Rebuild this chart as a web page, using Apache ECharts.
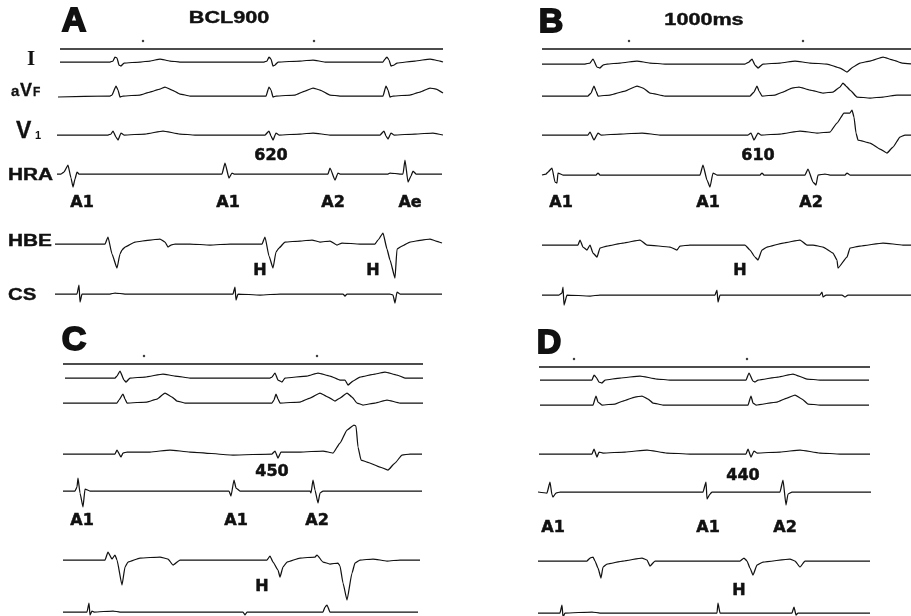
<!DOCTYPE html>
<html><head><meta charset="utf-8">
<script src="https://cdn.jsdelivr.net/npm/echarts@6/dist/echarts.min.js"></script>
<style>html,body{margin:0;padding:0;background:#fff}#c{width:911px;height:616px}</style>
</head><body><div id="c"></div>
<script>
// ---------- DATA: [time, amplitude] (time units ~ recording position, amplitude up = +) ----------
// Panel A  (BCL900, A1-A2 620)
const A_time = [[10,0],[393,0]];
const A_timeMarks = [93, 264];
const A_I = [[10,0],[60,0],[63,1],[65,5],[67,4],[69,-3],[71,-4],[74,-1],[90,0],[100,1],[110,3],[120,1],[130,0],[214,0],[217,1],[219,5],[221,3],[223,-4],[225,-3],[228,0],[250,1],[263,2],[275,0],[333,0],[335,3],[337,5],[339,2],[341,-4],[344,-3],[347,-1],[365,1],[380,3],[390,1],[393,0]];
const A_aVF = [[8,-1],[60,0],[62,1],[66,10],[68,6],[70,-1],[73,0],[90,1],[100,4],[110,7],[115,9],[122,6],[130,2],[140,0],[216,0],[219,9],[221,6],[223,-1],[226,0],[245,1],[255,5],[263,8],[270,6],[280,1],[290,0],[333,0],[336,10],[338,6],[340,-1],[343,0],[360,1],[370,4],[380,8],[386,7],[393,3]];
const A_V1 = [[7,0],[58,0],[61,1],[63,4],[66,-2],[68,-5],[71,2],[74,0],[95,1],[113,4],[130,1],[145,0],[215,0],[219,4],[221,-1],[223,-5],[226,2],[229,0],[250,1],[263,2],[280,0],[330,0],[334,4],[336,-1],[338,-4],[341,2],[344,0],[365,1],[383,2],[393,0]];
const A_HRA = [[7,0],[11,0],[14,2],[18,9],[21,-4],[23,-13],[25,-5],[27,2],[29,0],[172,0],[175,11],[179,-4],[182,1],[184,0],[278,0],[280,6],[285,-6],[288,1],[290,0],[338,0],[340,1],[350,0],[353,0],[355,14],[358,-8],[361,-2],[363,3],[366,0],[392,0]];
const A_HBE = [[5,0],[55,0],[58,7],[62,-10],[67,-24],[70,-10],[72,-6],[75,-3],[85,2],[100,4],[110,5],[115,2],[118,-3],[121,-1],[125,0],[140,0],[160,-1],[180,0],[200,0],[212,0],[215,7],[219,-12],[223,-24],[226,-8],[229,-4],[235,2],[250,3],[262,4],[270,2],[280,3],[287,-1],[292,1],[310,0],[325,0],[328,4],[333,11],[337,-5],[340,-16],[345,-34],[347,-5],[352,-2],[360,2],[372,4],[380,5],[386,3],[392,1]];
const A_CS = [[5,0],[27,0],[29,9],[30,-8],[32,0],[60,0],[65,1],[75,0],[183,0],[185,7],[186,-6],[188,0],[210,-1],[230,0],[293,0],[295,-2],[297,0],[340,0],[343,-1],[345,-9],[347,2],[350,0],[392,0]];
const A_atrialLabels = [[32,'A1'],[178,'A1'],[283,'A2'],[360,'Ae']];
const A_hisLabels = [210, 323];
const A_interval = [221, '620'];

// Panel B  (1000ms, A1-A2 610)
const B_time = [[12,0],[381,0]];
const B_timeMarks = [99, 273];
const B_I = [[12,0],[55,0],[60,1],[63,5],[67,-3],[70,-4],[73,-1],[77,0],[90,1],[107,3],[120,1],[135,0],[215,0],[219,2],[222,5],[225,-1],[228,-4],[233,0],[250,1],[265,3],[280,1],[297,0],[310,-4],[317,-8],[323,-3],[330,1],[340,3],[353,7],[363,4],[372,1],[381,0]];
const B_aVF = [[12,0],[58,0],[61,3],[64,10],[66,5],[68,0],[80,1],[95,5],[107,10],[113,8],[120,3],[135,0],[220,0],[224,4],[227,10],[229,5],[232,0],[245,1],[253,4],[262,8],[269,9],[280,6],[293,3],[303,4],[310,9],[313,13],[316,10],[320,6],[327,-1],[340,-2],[353,-1],[367,1],[381,1]];
const B_V1 = [[12,0],[58,0],[60,3],[64,-5],[68,2],[71,0],[90,1],[112,2],[130,0],[218,0],[221,2],[224,-5],[228,2],[231,0],[250,1],[270,4],[287,2],[300,3],[307,12],[314,22],[320,22],[322,25],[324,18],[326,2],[328,-5],[340,-8],[350,-14],[357,-18],[363,-12],[370,-2],[375,0],[381,0]];
const B_HRA = [[12,0],[16,1],[18,3],[22,7],[25,-7],[27,-8],[28,2],[33,0],[66,0],[68,2],[70,0],[170,0],[173,10],[177,-5],[180,-12],[183,2],[187,0],[230,0],[232,2],[234,0],[275,0],[278,6],[283,-7],[286,-10],[288,0],[295,1],[300,0],[315,0],[317,2],[320,0],[381,0]];
const B_HBE = [[12,0],[48,0],[50,5],[53,-2],[57,-5],[60,0],[63,-8],[67,-12],[70,-3],[77,-1],[93,2],[110,5],[117,0],[140,-2],[147,-5],[150,-1],[160,0],[215,0],[220,-5],[225,-12],[228,-15],[232,-5],[237,-2],[253,2],[270,5],[277,0],[283,0],[293,-2],[303,-8],[307,-15],[308,-23],[317,-12],[320,-3],[330,-1],[353,2],[373,0],[381,0]];
const B_CS = [[12,0],[29,0],[32,2],[33,8],[34,-10],[37,0],[60,-1],[70,0],[185,0],[187,5],[188,-7],[190,0],[290,0],[292,3],[293,-2],[296,0],[312,0],[315,-2],[318,0],[381,0]];
const B_atrialLabels = [[31,'A1'],[178,'A1'],[281,'A2']];
const B_hisLabels = [210];
const B_interval = [228, '610'];

// Panel C  (A1-A2 450)
const C_time = [[13,0],[373,0]];
const C_timeMarks = [94, 267];
const C_I = [[15,0],[65,0],[67,2],[70,7],[74,-2],[76,-4],[80,0],[95,1],[113,4],[125,2],[140,0],[220,0],[222,1],[225,5],[228,-2],[232,-4],[235,0],[257,2],[268,5],[280,2],[290,-2],[295,-2],[298,-7],[303,-3],[310,1],[325,4],[335,6],[347,3],[355,0],[373,0]];
const C_aVF = [[13,0],[67,0],[69,3],[73,9],[75,4],[77,0],[97,1],[107,4],[115,10],[122,6],[127,2],[135,0],[222,0],[224,3],[226,9],[228,4],[230,0],[250,1],[260,5],[270,10],[278,6],[285,2],[290,5],[297,10],[302,6],[307,0],[313,-2],[325,0],[337,3],[350,0],[373,0]];
const C_V1 = [[13,0],[65,0],[67,4],[71,-3],[73,1],[77,2],[100,2],[120,4],[140,2],[183,-1],[222,0],[225,3],[228,-4],[231,2],[250,2],[273,3],[283,1],[290,11],[297,24],[304,29],[306,28],[308,7],[311,-6],[317,-8],[330,-13],[338,-16],[345,-9],[352,-1],[360,0],[372,0]];
const C_HRA = [[13,0],[25,0],[27,4],[28,13],[30,-2],[33,-16],[35,2],[40,0],[179,0],[181,-5],[184,11],[186,3],[190,0],[260,0],[261,-2],[263,11],[265,1],[268,-12],[270,-2],[273,0],[372,0]];
const C_HBE = [[13,0],[55,0],[58,8],[62,1],[65,5],[67,0],[72,-25],[75,-7],[78,-2],[90,2],[110,3],[118,1],[123,-5],[130,0],[217,0],[220,4],[223,-2],[228,-10],[230,-17],[233,-7],[237,-2],[250,2],[265,3],[267,5],[273,-2],[280,-4],[288,-3],[290,-6],[293,-23],[297,-40],[302,-13],[305,-3],[310,0],[323,1],[337,-1],[350,0],[370,0]];
const C_CS = [[13,0],[37,0],[39,9],[40,-3],[42,1],[44,0],[63,1],[70,0],[193,0],[195,-3],[197,0],[273,0],[275,5],[277,7],[280,0],[368,0]];
const C_atrialLabels = [[32,'A1'],[186,'A1'],[267,'A2']];
const C_hisLabels = [212];
const C_interval = [222, '450'];

// Panel D  (A1-A2 440)
const D_time = [[9,0],[340,0]];
const D_timeMarks = [44, 217];
const D_I = [[10,0],[62,0],[64,5],[66,3],[69,-2],[72,-3],[75,0],[90,2],[110,4],[127,1],[140,0],[216,0],[219,7],[223,-1],[225,-2],[228,0],[248,3],[263,6],[277,1],[290,0],[339,0]];
const D_aVF = [[10,0],[63,0],[66,9],[68,3],[72,0],[85,1],[93,4],[105,8],[112,9],[118,6],[123,2],[133,0],[218,0],[221,9],[223,2],[226,0],[247,3],[257,7],[265,10],[272,6],[278,1],[290,0],[339,0]];
const D_V1 = [[9,0],[62,0],[64,5],[67,-3],[69,2],[73,1],[95,2],[117,4],[137,1],[160,0],[216,0],[218,5],[221,-3],[224,3],[227,1],[250,2],[270,4],[290,1],[310,0],[340,0]];
const D_HRA = [[8,0],[17,-1],[20,10],[22,-3],[23,-5],[26,-1],[30,0],[145,0],[173,0],[176,10],[177,-7],[180,-2],[182,0],[250,0],[253,12],[256,-13],[258,-2],[262,0],[341,0]];
const D_HBE = [[8,0],[57,0],[60,3],[63,4],[65,0],[68,-7],[71,-17],[73,-6],[77,-3],[93,0],[112,3],[117,1],[120,-5],[125,0],[210,0],[214,3],[217,0],[220,-7],[223,-14],[227,-4],[233,-1],[260,2],[265,0],[270,-6],[275,0],[340,0]];
const D_CS = [[8,0],[30,0],[32,8],[33,-4],[35,0],[62,1],[70,0],[187,0],[188,10],[190,0],[262,0],[264,6],[266,-2],[268,0],[340,0]];
const D_atrialLabels = [[23,'A1'],[178,'A1'],[255,'A2']];
const D_hisLabels = [209];
const D_interval = [213, '440'];

const LEADS = ['I','aVF','V1','HRA','HBE','CS'];
const PANEL_TITLES = {A:'BCL900', B:'1000ms', C:'', D:''};

// ---------- LAYOUT (pixels) ----------
const H_PX = 616;
const LAYOUT = {
  A:{left:50, span:395, base:{time:49,I:62,aVF:96,V1:135,HRA:174,HBE:244,CS:294}, aV:-29, hV:-27, iV:18, letter:[74,22], title:[229,19]},
  B:{left:530,span:381, base:{time:49,I:64,aVF:96,V1:135,HRA:175,HBE:245,CS:295}, aV:-28, hV:-26, iV:19, letter:[551,23], title:[704,21]},
  C:{left:50, span:375, base:{time:364,I:378,aVF:403,V1:454,HRA:491,HBE:560,CS:612}, aV:-30, hV:-27, iV:19, letter:[74,341]},
  D:{left:530,span:345, base:{time:367,I:380,aVF:405,V1:454,HRA:492,HBE:561,CS:613}, aV:-36, hV:-30, iV:16, letter:[549,344]}
};
const PANEL_DATA = {
  A:{time:A_time, marks:A_timeMarks, I:A_I, aVF:A_aVF, V1:A_V1, HRA:A_HRA, HBE:A_HBE, CS:A_CS, al:A_atrialLabels, hl:A_hisLabels, iv:A_interval},
  B:{time:B_time, marks:B_timeMarks, I:B_I, aVF:B_aVF, V1:B_V1, HRA:B_HRA, HBE:B_HBE, CS:B_CS, al:B_atrialLabels, hl:B_hisLabels, iv:B_interval},
  C:{time:C_time, marks:C_timeMarks, I:C_I, aVF:C_aVF, V1:C_V1, HRA:C_HRA, HBE:C_HBE, CS:C_CS, al:C_atrialLabels, hl:C_hisLabels, iv:C_interval},
  D:{time:D_time, marks:D_timeMarks, I:D_I, aVF:D_aVF, V1:D_V1, HRA:D_HRA, HBE:D_HBE, CS:D_CS, al:D_atrialLabels, hl:D_hisLabels, iv:D_interval}
};

const INK = '#111';
const LABEL_FONT = '"DejaVu Sans", "Liberation Sans", sans-serif';
const grids = [], xAxes = [], yAxes = [], series = [];

// each trace gets its own grid: 1 amplitude unit = 1 px, baseline at L.base[key]
function addGrid(L, key, half){
  const i = grids.length;
  const base = L.base[key];
  const up = half, down = Math.max(2, Math.min(half, H_PX - base - 1));
  grids.push({left:L.left, width:L.span, top:base-up, height:up+down, show:false});
  xAxes.push({gridIndex:i, type:'value', min:0, max:L.span, show:false});
  yAxes.push({gridIndex:i, type:'value', min:-down, max:up, show:false});
  return i;
}
function textSeries(i, items, size){
  return {type:'scatter', xAxisIndex:i, yAxisIndex:i, symbolSize:1, silent:true, animation:false,
    itemStyle:{color:'rgba(255,255,255,0)'}, clip:false,
    label:{show:true, position:'inside', formatter:'{b}', color:INK, opacity:1, fontSize:size, fontWeight:'bold', fontFamily:LABEL_FONT,
      textBorderColor:INK, textBorderWidth:0.5},
    data:items};
}

Object.keys(LAYOUT).forEach(p => {
  const L = LAYOUT[p], D = PANEL_DATA[p];
  const ti = addGrid(L, 'time', 20);
  series.push({type:'line', xAxisIndex:ti, yAxisIndex:ti, data:D.time, symbol:'none', silent:true, animation:false,
    lineStyle:{color:INK, width:1.6}});
  series.push({type:'scatter', xAxisIndex:ti, yAxisIndex:ti, data:D.marks.map(t=>[t,8]), symbolSize:2.5, silent:true, animation:false,
    itemStyle:{color:INK}});
  LEADS.forEach(lead => {
    const gi = addGrid(L, lead, 50);
    series.push({type:'line', xAxisIndex:gi, yAxisIndex:gi, data:D[lead], symbol:'none', smooth:0.15, smoothMonotone:'x',
      silent:true, animation:false, clip:false, lineStyle:{color:INK, width:1.25}});
    if (lead === 'HRA') {
      series.push(textSeries(gi, D.al.map(a => ({name:a[1], value:[a[0], L.aV]})), 16));
      series.push(textSeries(gi, [{name:D.iv[1], value:[D.iv[0], L.iV]}], 16));
    }
    if (lead === 'HBE') {
      series.push(textSeries(gi, D.hl.map(t => ({name:'H', value:[t, L.hV]})), 16));
    }
  });
});

function txt(x, y, text, font, opt){
  opt = opt || {};
  const align = opt.align || 'center';
  return {type:'text', x:x, y:y, scaleX:opt.sx || 1, silent:true,
    style:{text:text, font:font, fill:INK, textAlign:align, align:align, textVerticalAlign:'middle', verticalAlign:'middle',
      stroke: opt.stroke ? INK : null, lineWidth: opt.stroke || 0}};
}
const graphic = [];
Object.keys(LAYOUT).forEach(p => {
  const L = LAYOUT[p];
  graphic.push(txt(L.letter[0], L.letter[1], p, 'bold 34px "Liberation Sans", Arial, sans-serif', {stroke:1.8}));
  if (PANEL_TITLES[p]) graphic.push(txt(L.title[0], L.title[1], PANEL_TITLES[p], 'bold 16px "Liberation Sans", Arial, sans-serif', {sx:1.35, stroke:0.4}));
});
// lead names (panel A only)
graphic.push(txt(31, 60, 'I', 'bold 21px "Liberation Serif", serif'));
graphic.push(txt(11, 92, 'a', 'bold 15px "Liberation Sans", sans-serif', {align:'left', stroke:0.3}));
graphic.push(txt(20, 91, 'V', 'bold 18px "Liberation Sans", sans-serif', {align:'left', stroke:0.3}));
graphic.push(txt(33, 93, 'F', 'bold 12px "Liberation Sans", sans-serif', {align:'left', stroke:0.3}));
graphic.push(txt(16, 132, 'V', 'bold 23px "Liberation Sans", sans-serif', {align:'left', stroke:0.3}));
graphic.push(txt(35, 136, '1', 'bold 11px "Liberation Sans", sans-serif', {align:'left'}));
graphic.push(txt(8, 176, 'HRA', 'bold 16px "Liberation Sans", sans-serif', {align:'left', sx:1.3, stroke:0.4}));
graphic.push(txt(8, 242, 'HBE', 'bold 16px "Liberation Sans", sans-serif', {align:'left', sx:1.3, stroke:0.4}));
graphic.push(txt(8, 295, 'CS', 'bold 17px "Liberation Sans", sans-serif', {align:'left', sx:1.2, stroke:0.4}));

const chart = echarts.init(document.getElementById('c'), null, {renderer:'canvas'});
chart.setOption({animation:false, backgroundColor:'#fff', grid:grids, xAxis:xAxes, yAxis:yAxes, series:series, graphic:graphic});
</script></body></html>
